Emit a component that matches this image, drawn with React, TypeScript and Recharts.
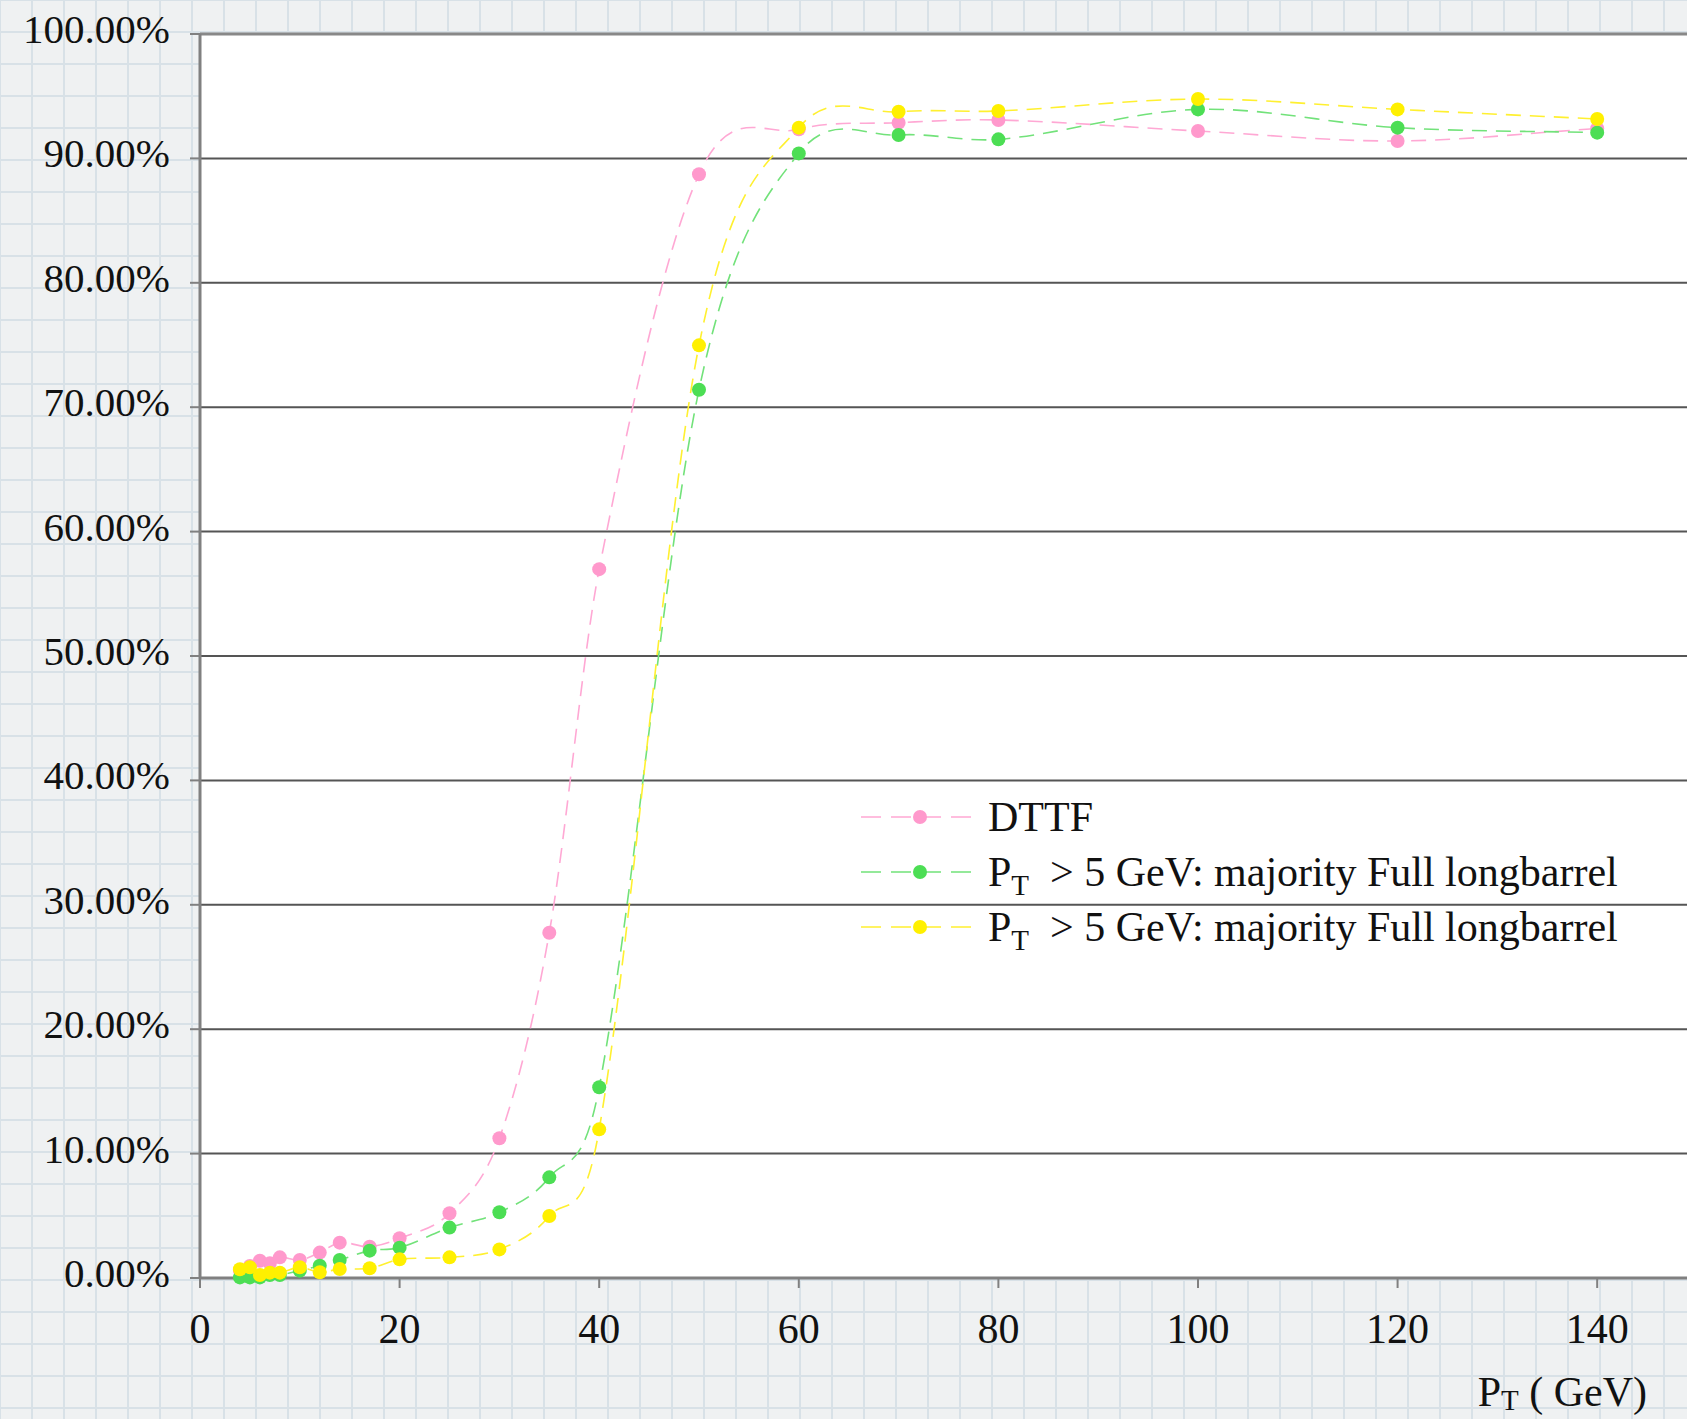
import { LineChart, Line, XAxis, YAxis, CartesianGrid, ReferenceLine, Legend } from 'recharts';

// transverse momentum bins (GeV)
const pt = [4, 5, 6, 7, 8, 10, 12, 14, 17, 20, 25, 30, 35, 40, 50, 60, 70, 80, 100, 120, 140];

// efficiencies in percent
const dttf = [0.6, 0.96, 1.39, 1.18, 1.66, 1.45, 2.04, 2.84, 2.52, 3.19, 5.2, 11.23, 27.75, 56.98, 88.72, 92.34, 92.87, 93.09, 92.2, 91.4, 92.4];
const majorityGreen = [0.05, 0.05, 0.05, 0.24, 0.24, 0.59, 0.99, 1.45, 2.2, 2.44, 4.05, 5.28, 8.09, 15.33, 71.4, 90.4, 91.88, 91.53, 93.94, 92.47, 92.07];
const majorityYellow = [0.7, 0.86, 0.24, 0.43, 0.43, 0.86, 0.46, 0.72, 0.78, 1.5, 1.66, 2.3, 4.98, 11.95, 74.97, 92.47, 93.75, 93.81, 94.77, 93.94, 93.17];

const xTicks = [0, 20, 40, 60, 80, 100, 120, 140];
const yTicks = [0, 10, 20, 30, 40, 50, 60, 70, 80, 90, 100];

const data = pt.map((x, i) => ({ x, dttf: dttf[i], green: majorityGreen[i], yellow: majorityYellow[i] }));

const series = [
	{ key: 'dttf', name: 'DTTF', line: '#ffa8d4', dot: '#ff99cc', sub: false },
	{ key: 'green', name: 'majority Full longbarrel', line: '#72e27a', dot: '#4cde54', sub: true },
	{ key: 'yellow', name: 'majority Full longbarrel', line: '#fff030', dot: '#fff000', sub: true },
];

const FONT = '"Liberation Serif", "Times New Roman", serif';

// smoothed line through every point (finite-difference hermite, uneven x spacing)
const smooth = (ctx: any) => {
	let pts: number[][] = [];
	return {
		areaStart() {},
		areaEnd() {},
		lineStart() {
			pts = [];
		},
		point(x: number, y: number) {
			pts.push([+x, +y]);
		},
		lineEnd() {
			const n = pts.length;
			if (!n) return;
			const slope = (i: number) => {
				const a = pts[Math.max(i - 1, 0)];
				const b = pts[Math.min(i + 1, n - 1)];
				return b[0] === a[0] ? 0 : (b[1] - a[1]) / (b[0] - a[0]);
			};
			ctx.moveTo(pts[0][0], pts[0][1]);
			for (let i = 0; i < n - 1; i++) {
				const p1 = pts[i];
				const p2 = pts[i + 1];
				const h = (p2[0] - p1[0]) / 3;
				ctx.bezierCurveTo(p1[0] + h, p1[1] + slope(i) * h, p2[0] - h, p2[1] - slope(i + 1) * h, p2[0], p2[1]);
			}
		},
	};
};

const YTick = ({ x, y, payload }: any) => (
	<text x={x} y={y} dy={9} textAnchor='end' fontFamily={FONT} fontSize={41} fill='#111'>
		{`${Number(payload.value).toFixed(2)}%`}
	</text>
);

const XTick = ({ x, y, payload }: any) => (
	<text x={x} y={y} dy={30} textAnchor='middle' fontFamily={FONT} fontSize={42} fill='#111'>
		{payload.value}
	</text>
);

const AxisTitle = ({ viewBox }: any) => {
	const { x, y, width } = viewBox;
	return (
		<text x={x + width - 40} y={y + 128} textAnchor='end' fontFamily={FONT} fontSize={42} fill='#111'>
			<tspan>P</tspan>
			<tspan fontSize={29} dy={4}>T</tspan>
			<tspan dy={-4}> ( GeV)</tspan>
		</text>
	);
};

const LegendBox = () => (
	<svg width={800} height={180} style={{ display: 'block' }}>
		{series.map((s, i) => {
			const cy = 37 + i * 55;
			return (
				<g key={s.key}>
					<line x1={11} x2={129} y1={cy} y2={cy} stroke={s.line} strokeWidth={1.5} strokeDasharray='20 10' />
					<circle cx={70} cy={cy} r={7} fill={s.dot} />
					<text x={138} y={cy + 14} fontFamily={FONT} fontSize={42} fill='#111'>
						{s.sub ? (
							<>
								<tspan>P</tspan>
								<tspan fontSize={29} dy={9}>T</tspan>
								<tspan dy={-9}>{'\u00a0 > 5 GeV: ' + s.name}</tspan>
							</>
						) : (
							s.name
						)}
					</text>
				</g>
			);
		})}
	</svg>
);

export default function App() {
	return (
		<div
			style={{
				position: 'absolute',
				left: 0,
				top: 0,
				width: 1687,
				height: 1419,
				overflow: 'hidden',
				backgroundColor: '#eff1f2',
				backgroundImage:
					'linear-gradient(to right, #d8e1e7 2px, transparent 2px), linear-gradient(to bottom, #d8e1e7 2px, transparent 2px)',
				backgroundSize: '32px 32px',
				backgroundPosition: '-1px -1px',
			}}>
			<LineChart width={1687} height={1419} data={data} margin={{ top: 34, right: 0, left: 0, bottom: 0 }}>
				<CartesianGrid vertical={false} stroke='#555' strokeWidth={2} fill='#fff' fillOpacity={1} />
				<ReferenceLine y={100} stroke='#888' strokeWidth={3} />
				<XAxis
					dataKey='x'
					type='number'
					domain={[0, 149]}
					ticks={xTicks}
					allowDataOverflow
					height={141}
					tickSize={10}
					tickMargin={25}
					tick={<XTick />}
					axisLine={{ stroke: '#808080', strokeWidth: 3 }}
					tickLine={{ stroke: '#808080', strokeWidth: 2 }}
					label={{ content: <AxisTitle /> }}
				/>
				<YAxis
					type='number'
					domain={[0, 100]}
					ticks={yTicks}
					width={200}
					tickSize={10}
					tickMargin={20}
					tick={<YTick />}
					axisLine={{ stroke: '#808080', strokeWidth: 3 }}
					tickLine={{ stroke: '#808080', strokeWidth: 2 }}
				/>
				<Legend
					layout='vertical'
					align='center'
					verticalAlign='middle'
					content={<LegendBox />}
					wrapperStyle={{ left: 850, top: 780, width: 800, height: 180 }}
				/>
				{series.map((s) => (
					<Line
						key={s.key}
						dataKey={s.key}
						name={s.name}
						type={smooth as any}
						stroke={s.line}
						strokeWidth={1.6}
						strokeDasharray='15 9'
						dot={{ r: 7, fill: s.dot, stroke: 'none' }}
						activeDot={false}
						isAnimationActive={false}
					/>
				))}
			</LineChart>
		</div>
	);
}
